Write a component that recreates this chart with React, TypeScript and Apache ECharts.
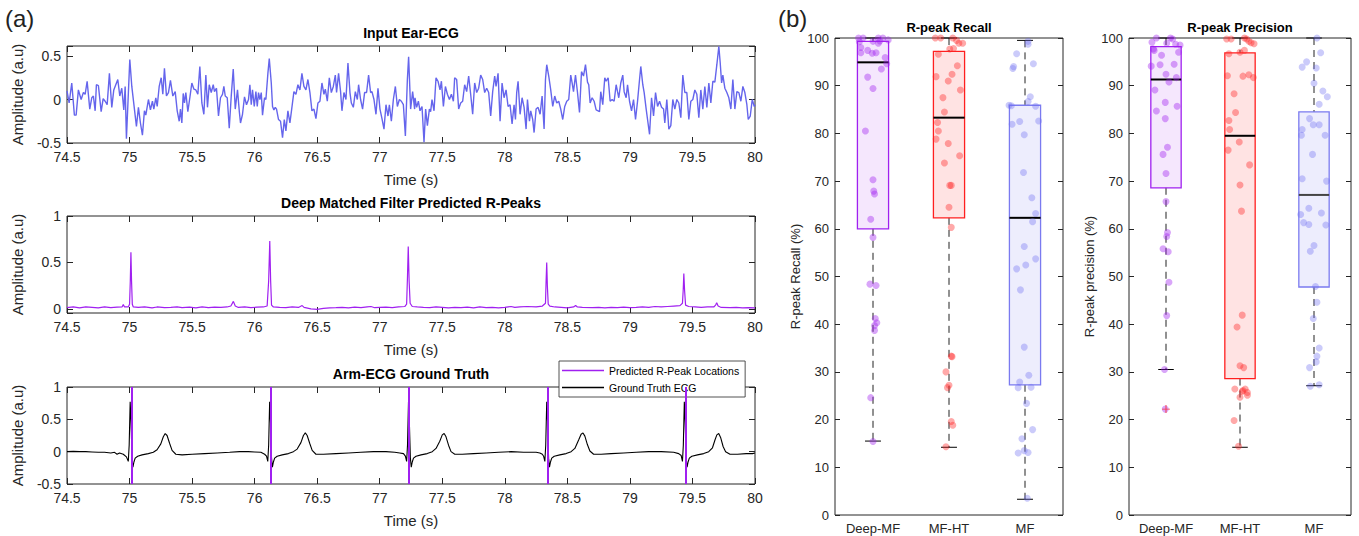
import React, { useEffect, useRef } from "react";
import * as echarts from "echarts";

// ---------------- DATA ----------------
const timeTicks = [74.5, 75, 75.5, 76, 76.5, 77, 77.5, 78, 78.5, 79, 79.5, 80];

// Input Ear-ECG [time (s), amplitude]
const earECG: [number, number][] = [
  [74.5, 0.1], [74.517, -0.04], [74.538, 0.19], [74.559, -0.18], [74.573, -0.18], [74.591, 0.11], [74.613, 0], [74.631, 0.08],
  [74.645, 0.06], [74.661, 0.21], [74.682, -0.11], [74.698, 0.02], [74.711, 0.04], [74.725, -0.13], [74.735, 0.17], [74.751, 0.16],
  [74.773, -0.14], [74.789, 0.01], [74.805, -0.02], [74.821, -0.06], [74.839, 0.3], [74.858, -0.09], [74.874, 0.11], [74.89, 0.17],
  [74.906, 0.23], [74.922, 0.04], [74.938, 0.13], [74.954, -0.12], [74.965, 0.15], [74.975, -0.45], [75.002, 0.46], [75.018, 0.15],
  [75.039, -0.11], [75.055, -0.31], [75.071, -0.09], [75.087, -0.27], [75.103, -0.41], [75.119, -0.13], [75.13, -0.18], [75.151, 0],
  [75.167, -0.12], [75.183, -0.02], [75.194, -0.11], [75.21, 0.02], [75.221, -0.08], [75.237, 0.15], [75.253, 0.25], [75.266, 0.06],
  [75.279, 0.36], [75.295, 0.04], [75.311, 0.08], [75.327, 0.22], [75.346, 0.04], [75.365, 0.09], [75.381, -0.13], [75.397, -0.25],
  [75.407, -0.11], [75.418, -0.27], [75.429, 0.07], [75.439, -0.04], [75.45, 0.08], [75.466, -0.14], [75.482, 0.02], [75.498, 0.19],
  [75.514, 0.12], [75.53, 0.11], [75.546, 0.06], [75.562, 0.38], [75.578, -0.04], [75.594, -0.17], [75.61, 0.28], [75.623, -0.09],
  [75.637, 0.17], [75.653, 0.08], [75.669, 0.17], [75.679, 0.09], [75.695, 0.13], [75.711, -0.19], [75.727, 0.02], [75.743, 0.06],
  [75.754, 0.15], [75.765, 0.04], [75.781, 0.02], [75.797, -0.33], [75.813, 0.04], [75.829, 0.35], [75.845, -0.11], [75.863, 0.11],
  [75.877, -0.13], [75.887, -0.27], [75.903, -0.17], [75.919, 0.03], [75.935, -0.06], [75.951, 0], [75.962, 0.17], [75.973, -0.06],
  [75.983, 0.11], [75.997, -0.08], [76.01, 0.09], [76.021, -0.08], [76.031, 0.08], [76.042, 0], [76.053, 0.08], [76.063, -0.18],
  [76.079, 0.02], [76.09, 0], [76.106, 0.3], [76.117, 0.47], [76.133, 0.19], [76.143, -0.08], [76.154, -0.12], [76.165, -0.09],
  [76.175, -0.11], [76.191, -0.23], [76.207, -0.25], [76.223, -0.44], [76.237, -0.23], [76.25, -0.36], [76.266, -0.13], [76.282, -0.27],
  [76.298, -0.09], [76.314, 0.09], [76.33, 0.06], [76.346, 0.17], [76.362, 0.11], [76.378, 0.3], [76.394, 0.15], [76.41, 0.11],
  [76.426, 0.23], [76.442, 0.08], [76.458, -0.13], [76.474, -0.11], [76.49, -0.22], [76.506, -0.04], [76.522, -0.02], [76.538, 0.19],
  [76.554, 0.06], [76.565, 0.12], [76.581, -0.02], [76.597, 0.25], [76.613, 0.08], [76.629, 0.15], [76.645, 0.28], [76.655, 0.08],
  [76.671, 0.3], [76.687, 0.09], [76.698, -0.13], [76.714, 0.08], [76.73, 0], [76.746, 0.42], [76.762, 0.08], [76.773, -0.04],
  [76.789, -0.09], [76.805, 0.09], [76.821, 0], [76.831, 0.17], [76.847, 0], [76.863, -0.11], [76.879, 0.08], [76.895, 0.08],
  [76.911, 0.28], [76.927, 0.08], [76.938, 0.09], [76.954, 0], [76.97, -0.17], [76.986, 0.13], [77.002, -0.11], [77.018, -0.22],
  [77.034, -0.34], [77.05, -0.06], [77.066, -0.19], [77.077, -0.06], [77.093, -0.25], [77.109, 0], [77.125, 0.15], [77.141, -0.08],
  [77.157, 0], [77.173, -0.02], [77.189, -0.06], [77.205, -0.42], [77.221, 0.23], [77.231, 0.49], [77.247, -0.11], [77.263, 0.09],
  [77.279, -0.11], [77.282, 0.02], [77.295, -0.09], [77.309, -0.02], [77.322, -0.13], [77.338, -0.08], [77.354, -0.49], [77.367, -0.11],
  [77.381, -0.3], [77.397, -0.11], [77.407, -0.14], [77.418, 0], [77.434, -0.13], [77.45, 0.25], [77.466, 0.21], [77.482, 0.11],
  [77.493, 0.21], [77.509, -0.08], [77.525, 0.15], [77.541, 0.06], [77.557, 0], [77.573, 0.06], [77.589, -0.02], [77.599, 0.25],
  [77.615, 0.23], [77.631, -0.11], [77.647, -0.04], [77.663, -0.02], [77.679, 0.17], [77.695, 0.09], [77.711, 0.27], [77.727, 0.06],
  [77.743, -0.17], [77.759, 0.19], [77.775, 0.08], [77.791, 0.13], [77.807, 0.28], [77.823, 0.23], [77.839, 0.08], [77.855, 0.13],
  [77.871, 0.08], [77.887, -0.19], [77.903, 0.09], [77.919, 0.27], [77.93, 0.15], [77.946, 0.3], [77.962, -0.25], [77.978, 0.19],
  [77.994, 0.02], [78.01, 0.11], [78.026, -0.08], [78.042, -0.06], [78.058, -0.28], [78.074, -0.06], [78.085, -0.23], [78.095, 0.08],
  [78.106, 0.21], [78.122, -0.17], [78.138, 0.02], [78.154, -0.09], [78.17, -0.34], [78.181, 0], [78.197, -0.25], [78.207, -0.13],
  [78.223, -0.23], [78.234, -0.38], [78.25, -0.11], [78.266, -0.09], [78.282, -0.17], [78.298, 0.04], [78.314, -0.34], [78.325, 0.23],
  [78.335, 0.4], [78.351, 0.27], [78.367, 0.11], [78.383, -0.08], [78.399, 0.04], [78.415, -0.04], [78.431, -0.02], [78.447, -0.11],
  [78.463, -0.23], [78.479, -0.08], [78.495, -0.02], [78.511, 0], [78.527, 0.28], [78.538, 0.19], [78.549, 0.09], [78.565, 0.28],
  [78.581, 0.08], [78.597, -0.15], [78.613, 0.32], [78.629, 0.27], [78.645, 0.4], [78.661, 0.2], [78.671, 0.17], [78.682, -0.04],
  [78.698, 0.02], [78.714, -0.02], [78.73, -0.12], [78.746, -0.13], [78.757, -0.14], [78.767, 0.09], [78.783, -0.06], [78.799, 0.25],
  [78.81, 0.21], [78.826, 0.25], [78.842, -0.02], [78.858, 0], [78.874, -0.02], [78.89, 0.17], [78.901, 0.09], [78.911, 0.02],
  [78.927, 0.19], [78.943, 0.28], [78.954, 0.09], [78.97, 0.02], [78.981, 0.17], [78.997, -0.02], [79.013, -0.13], [79.029, 0],
  [79.045, -0.23], [79.061, -0.02], [79.077, 0.23], [79.087, 0.38], [79.103, 0.17], [79.114, 0.08], [79.13, -0.11], [79.141, -0.23],
  [79.157, -0.4], [79.173, 0.02], [79.189, -0.19], [79.205, 0.08], [79.221, -0.08], [79.237, -0.02], [79.253, -0.09], [79.269, -0.11],
  [79.279, -0.27], [79.295, 0], [79.311, -0.34], [79.327, -0.3], [79.343, 0], [79.359, -0.11], [79.375, 0], [79.391, -0.04],
  [79.407, -0.21], [79.423, 0.28], [79.439, 0.08], [79.455, 0.08], [79.471, -0.23], [79.487, -0.02], [79.503, 0], [79.519, 0.11],
  [79.535, 0.06], [79.551, -0.21], [79.567, 0.11], [79.583, -0.11], [79.599, 0.15], [79.615, -0.09], [79.631, 0.19], [79.647, -0.04],
  [79.663, 0.21], [79.679, 0.2], [79.695, 0.4], [79.711, 0.61], [79.722, 0.42], [79.733, 0.19], [79.743, 0.28], [79.759, 0.13],
  [79.775, 0.08], [79.791, 0.02], [79.807, -0.11], [79.823, 0.23], [79.839, -0.11], [79.855, 0.09], [79.871, 0.08], [79.887, -0.02],
  [79.903, 0.15], [79.919, 0.08], [79.935, -0.06], [79.946, -0.23], [79.962, -0.19], [79.978, 0], [79.994, -0.08], [80, -0.06],
];

// Deep Matched Filter output [time, amplitude]
const deepMF: [number, number][] = [
  [74.5, 0.012], [74.55, 0.02], [74.6, 0.01], [74.65, 0.02], [74.7, 0.015], [74.75, 0.01], [74.8, 0.02], [74.85, 0.012],
  [74.9, 0.018], [74.94, 0.02], [74.95, 0.045], [74.96, 0.02], [74.99, 0.02], [75.0, 0.05], [75.006, 0.3], [75.011, 0.61],
  [75.016, 0.3], [75.022, 0.05], [75.03, 0.02], [75.07, 0.015], [75.12, 0.02], [75.18, 0.01], [75.22, 0.02], [75.28, 0.012],
  [75.33, 0.015], [75.38, 0.02], [75.42, 0.012], [75.48, 0.018], [75.53, 0.01], [75.58, 0.02], [75.63, 0.012], [75.68, 0.018],
  [75.73, 0.015], [75.78, 0.02], [75.81, 0.03], [75.83, 0.08], [75.845, 0.03], [75.87, 0.015], [75.92, 0.02], [75.97, 0.012],
  [76.02, 0.018], [76.07, 0.02], [76.1, 0.03], [76.112, 0.3], [76.121, 0.73], [76.128, 0.3], [76.135, 0.04], [76.15, 0.02],
  [76.2, 0.015], [76.25, 0.012], [76.3, 0.02], [76.35, 0.015], [76.38, 0.035], [76.395, 0.015], [76.45, 0.0], [76.5, -0.005],
  [76.55, 0.005], [76.6, 0.01], [76.65, 0.012], [76.7, 0.015], [76.75, 0.01], [76.8, 0.018], [76.85, 0.012], [76.9, 0.02],
  [76.93, 0.025], [76.96, 0.012], [77.0, 0.015], [77.05, 0.018], [77.1, 0.012], [77.15, 0.02], [77.2, 0.025], [77.215, 0.05],
  [77.222, 0.35], [77.228, 0.67], [77.235, 0.3], [77.243, 0.06], [77.26, 0.025], [77.3, 0.02], [77.35, 0.015], [77.4, 0.012],
  [77.45, 0.02], [77.5, 0.015], [77.55, 0.01], [77.6, 0.015], [77.65, 0.012], [77.7, 0.018], [77.75, 0.01], [77.8, 0.02],
  [77.85, 0.012], [77.9, 0.015], [77.95, 0.01], [78.0, 0.015], [78.05, 0.025], [78.08, 0.015], [78.12, 0.02], [78.18, 0.025],
  [78.25, 0.02], [78.3, 0.03], [78.325, 0.06], [78.33, 0.3], [78.335, 0.5], [78.34, 0.25], [78.347, 0.05], [78.36, 0.03],
  [78.4, 0.02], [78.45, 0.015], [78.5, 0.01], [78.55, 0.02], [78.566, 0.035], [78.58, 0.02], [78.62, 0.015], [78.7, 0.012],
  [78.75, 0.015], [78.8, 0.01], [78.85, 0.015], [78.9, 0.012], [78.95, 0.018], [79.0, 0.012], [79.05, 0.015], [79.1, 0.02],
  [79.15, 0.015], [79.2, 0.025], [79.25, 0.02], [79.3, 0.025], [79.35, 0.03], [79.4, 0.035], [79.42, 0.06], [79.426, 0.2],
  [79.431, 0.38], [79.437, 0.2], [79.445, 0.04], [79.47, 0.025], [79.52, 0.02], [79.57, 0.015], [79.62, 0.02], [79.67, 0.02],
  [79.685, 0.04], [79.694, 0.065], [79.705, 0.03], [79.73, 0.015], [79.8, 0.012], [79.85, 0.015], [79.9, 0.01], [79.95, 0.012],
  [80.0, 0.01],
];

// Arm-ECG ground truth [time, amplitude]
const armECG: [number, number][] = [
  [74.5, 0.0], [74.55, 0.005], [74.6, 0.0], [74.65, 0.0], [74.7, -0.005], [74.75, -0.01], [74.8, -0.01], [74.85, -0.02],
  [74.88, -0.01], [74.9, -0.04], [74.92, -0.02], [74.95, -0.04], [74.975, -0.08], [74.99, -0.15], [74.997, 0.1], [75.005, 0.77],
  [75.012, 0.45], [75.02, -0.1], [75.027, -0.24], [75.035, -0.16], [75.045, -0.1], [75.065, -0.07], [75.1, -0.05], [75.15, -0.03],
  [75.19, -0.01], [75.22, 0.03], [75.25, 0.12], [75.27, 0.23], [75.285, 0.28], [75.3, 0.25], [75.32, 0.13], [75.34, 0.02],
  [75.37, -0.04], [75.42, -0.05], [75.5, -0.04], [75.6, -0.03], [75.7, -0.02], [75.8, -0.01], [75.88, 0.0], [75.95, 0.0],
  [76.0, -0.005], [76.05, -0.01], [76.08, -0.04], [76.095, -0.07], [76.105, -0.15], [76.112, 0.1], [76.12, 0.77], [76.127, 0.45],
  [76.135, -0.1], [76.142, -0.24], [76.15, -0.16], [76.16, -0.1], [76.18, -0.07], [76.22, -0.05], [76.27, -0.03], [76.31, 0.0],
  [76.34, 0.04], [76.37, 0.14], [76.39, 0.25], [76.405, 0.29], [76.42, 0.25], [76.44, 0.13], [76.46, 0.02], [76.49, -0.04],
  [76.55, -0.04], [76.65, -0.03], [76.75, -0.02], [76.85, -0.01], [76.95, 0.0], [77.05, 0.0], [77.12, -0.01], [77.16, -0.02],
  [77.19, -0.03], [77.205, -0.07], [77.215, -0.15], [77.222, 0.1], [77.23, 0.77], [77.237, 0.45], [77.245, -0.1], [77.252, -0.24],
  [77.26, -0.16], [77.27, -0.1], [77.29, -0.07], [77.33, -0.05], [77.38, -0.03], [77.42, 0.0], [77.45, 0.05], [77.48, 0.16],
  [77.5, 0.26], [77.515, 0.28], [77.53, 0.23], [77.55, 0.1], [77.57, 0.0], [77.6, -0.04], [77.66, -0.04], [77.75, -0.03],
  [77.85, -0.02], [77.95, -0.01], [78.05, 0.0], [78.15, -0.01], [78.25, -0.01], [78.28, -0.02], [78.3, -0.04], [78.31, -0.07],
  [78.32, -0.15], [78.327, 0.1], [78.335, 0.77], [78.342, 0.45], [78.35, -0.1], [78.357, -0.24], [78.365, -0.16], [78.375, -0.1],
  [78.395, -0.07], [78.44, -0.05], [78.49, -0.03], [78.53, 0.0], [78.56, 0.05], [78.59, 0.18], [78.61, 0.27], [78.625, 0.29],
  [78.64, 0.24], [78.66, 0.11], [78.68, 0.01], [78.71, -0.04], [78.77, -0.04], [78.85, -0.03], [78.95, -0.02], [79.05, -0.01],
  [79.15, 0.0], [79.25, 0.0], [79.35, -0.01], [79.39, -0.03], [79.41, -0.06], [79.42, -0.15], [79.427, 0.1], [79.435, 0.77],
  [79.442, 0.45], [79.45, -0.1], [79.457, -0.24], [79.465, -0.16], [79.475, -0.1], [79.495, -0.07], [79.54, -0.05], [79.59, -0.03],
  [79.63, 0.0], [79.66, 0.06], [79.68, 0.18], [79.695, 0.26], [79.71, 0.28], [79.725, 0.22], [79.745, 0.08], [79.765, 0.0],
  [79.8, -0.04], [79.86, -0.04], [79.93, -0.03], [79.98, -0.03], [80.0, -0.02],
];

// Predicted R-peak locations (s)
const predictedPeaks = [75.02, 76.13, 77.235, 78.345, 79.45];

// Box plot panels
const methods = ["Deep-MF", "MF-HT", "MF"];
// [q1, q3, median, lowerWhisker, upperWhisker]
const recallBoxes = [
  [60.0, 99.3, 94.9, 15.5, 100],
  [62.3, 97.2, 83.3, 14.2, 100],
  [27.3, 85.9, 62.3, 3.3, 99.5],
];
const precisionBoxes = [
  [68.6, 98.2, 91.3, 30.5, 100],
  [28.6, 96.9, 79.5, 14.2, 100],
  [47.8, 84.5, 67.1, 27.1, 100],
];
const precisionOutliers = [[0, 22.2]];

const recallDeepMF = [100, 100, 100, 100, 99.6, 99.2, 99.3, 99.4, 98, 96.9, 97.4, 96.8, 96.9, 98.9, 95.9, 94.6, 93.5, 91.8, 89.4, 80.5, 70.3, 67.9, 67.3, 62, 58.2, 48.4, 48.1, 41.2, 40.3, 39.7, 38.7, 24.6, 15.4];
const recallDeepMFJitter = [-0.19, -0.13, 0.07, 0.13, 0.2, -0.18, 0, 0.09, -0.16, -0.16, -0.07, -0.01, 0.04, 0.07, 0.16, 0.18, 0.11, -0.07, 0, -0.1, 0, 0.01, 0.02, -0.03, 0, -0.04, 0.04, 0.03, 0.05, 0.02, 0.02, -0.03, 0];
const recallMFHT = [100, 100, 100, 99.5, 98.9, 98.9, 97.7, 97.8, 96.6, 94.2, 92.4, 91.9, 91.0, 89.1, 87.5, 84.5, 82.3, 80.5, 78.8, 77.9, 75.3, 73.8, 69.1, 69.1, 64.5, 60.3, 30.0, 33.3, 33.2, 27.2, 26.7, 19.6, 18.8, 14.3];
const recallMFHTJitter = [-0.18, -0.11, 0.05, 0.1, 0.13, 0.18, 0.01, 0.06, -0.14, 0.11, 0.04, -0.17, -0.01, 0.15, -0.08, -0.06, -0.15, -0.14, -0.17, -0.01, 0.14, -0.06, 0.01, 0.03, 0, 0.03, -0.04, 0.03, 0.04, 0, -0.02, 0.03, 0.05, -0.04];
const recallMF = [99.3, 98.7, 96.7, 94.0, 93.6, 94.6, 87.7, 86.7, 85.9, 85.8, 85.7, 82.5, 81.9, 82.6, 79.7, 71.8, 66.5, 63.2, 61.5, 56.3, 53.7, 52.4, 51.6, 47.2, 35.2, 29.3, 27.9, 26.7, 26.8, 23.4, 16.0, 17.9, 13.0, 13.5, 13.1, 3.5];
const recallMFJitter = [0.04, 0.04, -0.11, -0.15, -0.16, 0.11, 0.07, 0.04, -0.21, -0.18, 0.14, -0.07, -0.17, 0.18, -0.01, -0.02, 0.09, 0.14, 0.1, -0.01, 0.14, 0.01, -0.11, -0.06, -0.01, 0.05, -0.07, -0.09, 0.08, 0.02, -0.04, 0.1, -0.09, -0.01, 0.04, 0.03];

const precDeepMF = [100, 100, 99.8, 99.1, 98.9, 98.7, 98.5, 97.7, 97.4, 97.0, 96.4, 94.1, 94.4, 94.5, 92.4, 91.7, 90.8, 89.1, 86.5, 84.7, 85.7, 83.1, 77.1, 75.6, 71.6, 65.7, 59.2, 58.4, 55.8, 55.2, 48.8, 41.8, 30.5, 22.2];
const precDeepMFJitter = [-0.13, 0.06, 0.09, -0.19, 0.01, 0.13, 0.19, -0.17, -0.16, 0.17, -0.06, -0.2, -0.08, 0.11, 0, 0.14, 0.04, -0.15, -0.01, -0.13, 0.15, -0.01, 0.02, -0.04, 0, 0, 0.02, 0.01, -0.04, 0.03, 0.04, 0.01, -0.02, -0.01];
const precMFHT = [99.8, 99.8, 100, 99.8, 99.3, 99.0, 98.8, 97.4, 97.0, 96.7, 92.1, 92.0, 92.3, 91.7, 88.3, 84.4, 82.7, 80.8, 78.2, 76.5, 73.4, 69.2, 63.7, 41.9, 39.4, 31.3, 30.9, 26.4, 26.1, 26.4, 25.7, 25.9, 24.7, 25.1, 19.8, 14.4];
const precMFHTJitter = [-0.18, -0.12, 0.06, 0.09, 0.12, 0.15, 0.19, 0.06, 0, -0.15, -0.17, 0.04, 0.12, 0.18, -0.08, -0.06, -0.15, -0.14, -0.01, -0.16, 0.13, 0, 0.02, 0.03, -0.04, 0, 0.05, -0.07, 0.04, 0.07, 0.1, 0.03, 0, 0.1, -0.08, -0.02];
const precMF = [100, 96.9, 95.0, 93.9, 93.7, 90.5, 88.9, 87.7, 86.1, 83.1, 80.8, 79.6, 81.8, 81.8, 79.6, 75.6, 70.5, 70.0, 64.3, 63.0, 63.3, 61.3, 60.9, 60.8, 56.5, 55.3, 47.9, 44.6, 41.2, 35.0, 33.3, 32.1, 30.9, 27.0, 27.3];
const precMFJitter = [0.04, 0.09, -0.1, -0.16, 0.03, 0, 0.12, 0.18, 0.07, -0.06, -0.16, -0.17, -0.01, 0.07, 0.15, -0.02, -0.16, 0.17, -0.07, -0.18, 0.1, -0.14, -0.07, 0.16, 0, -0.05, 0.02, 0.04, -0.01, 0.07, 0.04, 0.03, -0.06, -0.05, 0.07];

// ---------------- STYLE ----------------
const FONT = '"Liberation Sans", Arial, Helvetica, sans-serif';
const AXC = "#262626";
const PURPLE = "#a020f0";
const boxEdge = ["#a020f0", "#ff1f1f", "#7a7af0"];
const boxFill = ["rgba(160,32,240,0.11)", "rgba(255,0,0,0.11)", "rgba(110,110,240,0.12)"];
const dotColor = ["rgba(160,32,240,0.5)", "rgba(255,40,40,0.5)", "rgba(110,110,240,0.45)"];

const leftPanels = [
  { top: 46, min: -0.5, max: 0.615, interval: 0.5 as number | undefined, split: 2 },
  { top: 216, min: -0.045, max: 1, interval: undefined as number | undefined, split: 2 },
  { top: 387, min: -0.5, max: 1, interval: 0.5 as number | undefined, split: 3 },
];

function pairJitter(vals: number[], jit: number[], idx: number) {
  return vals.map((v, i) => [idx + jit[i], v]);
}

function buildOption(): any {
  const grid: any[] = [];
  const xAxis: any[] = [];
  const yAxis: any[] = [];
  const series: any[] = [];

  const halfLabel = (v: number) =>
    Math.abs(v * 2 - Math.round(v * 2)) < 1e-6 ? String(Math.round(v * 10) / 10) : "";
  const noLine = { show: false, onZero: false };

  leftPanels.forEach((p, i) => {
    grid.push({ left: 67, top: p.top, width: 688, height: 97, show: true, borderColor: AXC, borderWidth: 1, backgroundColor: "transparent" });
    const baseX = {
      type: "value", gridIndex: i, min: timeTicks[0], max: timeTicks[timeTicks.length - 1], interval: 0.5,
      axisLine: noLine, splitLine: { show: false },
      axisTick: { inside: true, length: 6, lineStyle: { color: AXC } },
    };
    xAxis.push({
      ...baseX, position: "bottom",
      axisLabel: { color: AXC, fontSize: 14, fontFamily: FONT, margin: 7, formatter: halfLabel },
      name: "Time (s)", nameLocation: "middle", nameGap: 29,
      nameTextStyle: { color: AXC, fontSize: 15, fontFamily: FONT },
    });
    xAxis.push({ ...baseX, position: "top", axisLabel: { show: false } });
    const baseY: any = {
      type: "value", gridIndex: i, min: p.min, max: p.max, splitNumber: p.split,
      axisLine: noLine, splitLine: { show: false },
      axisTick: { inside: true, length: 6, lineStyle: { color: AXC } },
    };
    if (p.interval !== undefined) baseY.interval = p.interval;
    yAxis.push({
      ...baseY, position: "left",
      axisLabel: { color: AXC, fontSize: 14, fontFamily: FONT, margin: 6, formatter: halfLabel },
      name: "Amplitude (a.u)", nameLocation: "middle", nameGap: 42, nameRotate: 90,
      nameTextStyle: { color: AXC, fontSize: 15, fontFamily: FONT },
    });
    yAxis.push({ ...baseY, position: "right", axisLabel: { show: false } });
  });

  series.push({
    type: "line", name: "Input Ear-ECG", xAxisIndex: 0, yAxisIndex: 0, data: earECG,
    symbol: "none", lineStyle: { color: "#6565ec", width: 1.4 }, z: 3,
  });
  series.push({
    type: "line", name: "Deep MF", xAxisIndex: 2, yAxisIndex: 2, data: deepMF,
    symbol: "none", lineStyle: { color: PURPLE, width: 1.2 }, z: 3,
  });
  series.push({
    type: "line", name: "Ground Truth ECG", xAxisIndex: 4, yAxisIndex: 4, data: armECG,
    symbol: "none", itemStyle: { color: "#000" }, lineStyle: { color: "#000", width: 1.1 }, z: 3,
  });
  series.push({
    type: "line", name: "Predicted R-Peak Locations", xAxisIndex: 4, yAxisIndex: 4, data: [],
    symbol: "none", itemStyle: { color: PURPLE }, lineStyle: { color: PURPLE, width: 2 }, z: 4,
    markLine: {
      symbol: ["none", "none"], silent: true, label: { show: false },
      lineStyle: { color: PURPLE, width: 2, type: "solid" },
      data: predictedPeaks.map((t) => ({ xAxis: t })),
    },
  });

  // Box panels
  const boxPanels = [
    { left: 835, width: 228, boxes: recallBoxes, name: "R-peak Recall (%)",
      pts: [pairJitter(recallDeepMF, recallDeepMFJitter, 0), pairJitter(recallMFHT, recallMFHTJitter, 1), pairJitter(recallMF, recallMFJitter, 2)],
      medColor: ["#000", "#000", "#000"], outliers: [] as number[][] },
    { left: 1129, width: 222, boxes: precisionBoxes, name: "R-peak precision (%)",
      pts: [pairJitter(precDeepMF, precDeepMFJitter, 0), pairJitter(precMFHT, precMFHTJitter, 1), pairJitter(precMF, precMFJitter, 2)],
      medColor: ["#000", "#000", "#444"], outliers: precisionOutliers },
  ];

  boxPanels.forEach((bp, k) => {
    const gi = 3 + k;
    grid.push({ left: bp.left, top: 38, width: bp.width, height: 477, show: true, borderColor: AXC, borderWidth: 1, backgroundColor: "transparent" });
    const catIdx = xAxis.length;
    xAxis.push({
      type: "category", gridIndex: gi, data: methods, position: "bottom",
      axisLine: noLine, axisTick: { show: false }, splitLine: { show: false },
      axisLabel: { color: AXC, fontSize: 13, fontFamily: FONT, margin: 7 },
    });
    const valIdx = xAxis.length;
    xAxis.push({ type: "value", gridIndex: gi, min: -0.5, max: 2.5, show: false, axisLine: noLine });
    const yBase = {
      type: "value", gridIndex: gi, min: 0, max: 100, interval: 10,
      axisLine: noLine, splitLine: { show: false },
      axisTick: { inside: true, length: 5, lineStyle: { color: AXC } },
    };
    const yIdx = yAxis.length;
    yAxis.push({
      ...yBase, position: "left",
      axisLabel: { color: AXC, fontSize: 13, fontFamily: FONT, margin: 6 },
      name: bp.name, nameLocation: "middle", nameGap: 33, nameRotate: 90,
      nameTextStyle: { color: AXC, fontSize: 13, fontFamily: FONT },
    });
    yAxis.push({ ...yBase, position: "right", axisLabel: { show: false } });

    series.push({
      type: "custom", xAxisIndex: catIdx, yAxisIndex: yIdx, z: 2,
      data: bp.boxes.map((b, i) => [i, ...b]),
      renderItem: (params: any, api: any) => {
        const i = api.value(0);
        const q1 = api.value(1), q3 = api.value(2), med = api.value(3), lo = api.value(4), hi = api.value(5);
        const band = api.size([1, 0])[0];
        const cx = api.coord([i, med])[0];
        const yq1 = api.coord([i, q1])[1];
        const yq3 = api.coord([i, q3])[1];
        const ymed = api.coord([i, med])[1];
        const ylo = api.coord([i, lo])[1];
        const yhi = api.coord([i, hi])[1];
        const hw = band * 0.205;
        const cw = band * 0.105;
        const dash = { stroke: "#222", lineWidth: 1, lineDash: [7, 5] };
        return {
          type: "group",
          children: [
            { type: "line", shape: { x1: cx, y1: yhi, x2: cx, y2: yq3 }, style: dash },
            { type: "line", shape: { x1: cx, y1: yq1, x2: cx, y2: ylo }, style: dash },
            { type: "line", shape: { x1: cx - cw, y1: yhi, x2: cx + cw, y2: yhi }, style: { stroke: "#000", lineWidth: 1 } },
            { type: "line", shape: { x1: cx - cw, y1: ylo, x2: cx + cw, y2: ylo }, style: { stroke: "#000", lineWidth: 1 } },
            { type: "rect", shape: { x: cx - hw, y: yq3, width: 2 * hw, height: yq1 - yq3 },
              style: { fill: boxFill[i], stroke: boxEdge[i], lineWidth: 1.3 } },
            { type: "line", shape: { x1: cx - hw, y1: ymed, x2: cx + hw, y2: ymed }, style: { stroke: bp.medColor[i], lineWidth: 2 } },
          ],
        };
      },
    });
    bp.pts.forEach((pts, i) => {
      series.push({
        type: "scatter", xAxisIndex: valIdx, yAxisIndex: yIdx, data: pts, symbolSize: 7, z: 5,
        itemStyle: { color: dotColor[i], borderWidth: 0 }, silent: true,
      });
    });
    if (bp.outliers.length) {
      series.push({
        type: "scatter", xAxisIndex: valIdx, yAxisIndex: yIdx, data: bp.outliers, z: 6, symbolSize: 8,
        symbol: "path://M4.4,0h1.2v4.4h4.4v1.2h-4.4v4.4h-1.2v-4.4h-4.4v-1.2h4.4z",
        itemStyle: { color: "#ff1a1a" }, silent: true,
      });
    }
  });

  const titleStyle = (text: string, x: number, y: number, size = 14) => ({
    type: "text", x, y,
    style: { text, fill: "#000", font: `bold ${size}px ${FONT}`, textAlign: "center", textVerticalAlign: "middle" },
  });

  return {
    animation: false,
    backgroundColor: "#fff",
    grid, xAxis, yAxis, series,
    legend: {
      data: [
        { name: "Predicted R-Peak Locations", icon: "rect", itemStyle: { color: PURPLE } },
        { name: "Ground Truth ECG", icon: "rect", itemStyle: { color: "#000" } },
      ],
      orient: "vertical", left: 559, top: 361,
      backgroundColor: "#fff", borderColor: AXC, borderWidth: 0.8,
      padding: [4, 6, 4, 3], itemGap: 6, itemWidth: 42, itemHeight: 1.6,
      textStyle: { fontSize: 10.5, color: "#000", fontFamily: FONT, lineHeight: 10 },
    },
    graphic: [
      titleStyle("Input Ear-ECG", 411, 33),
      titleStyle("Deep Matched Filter Predicted R-Peaks", 411, 203),
      titleStyle("Arm-ECG Ground Truth", 411, 374),
      titleStyle("R-peak Recall", 949, 27, 13),
      titleStyle("R-peak Precision", 1240, 27, 13),
      { type: "text", x: 5, y: 18, style: { text: "(a)", fill: "#222", font: `24px ${FONT}`, textVerticalAlign: "middle" } },
      { type: "text", x: 778, y: 18, style: { text: "(b)", fill: "#222", font: `24px ${FONT}`, textVerticalAlign: "middle" } },
    ],
  };
}

export default function App() {
  const ref = useRef<HTMLDivElement>(null);
  useEffect(() => {
    if (!ref.current) return;
    const chart = echarts.init(ref.current, undefined, { renderer: "svg" });
    chart.setOption(buildOption());
    return () => chart.dispose();
  }, []);
  return <div ref={ref} style={{ position: "fixed", left: 0, top: 0, width: 1359, height: 536, background: "#fff" }} />;
}
